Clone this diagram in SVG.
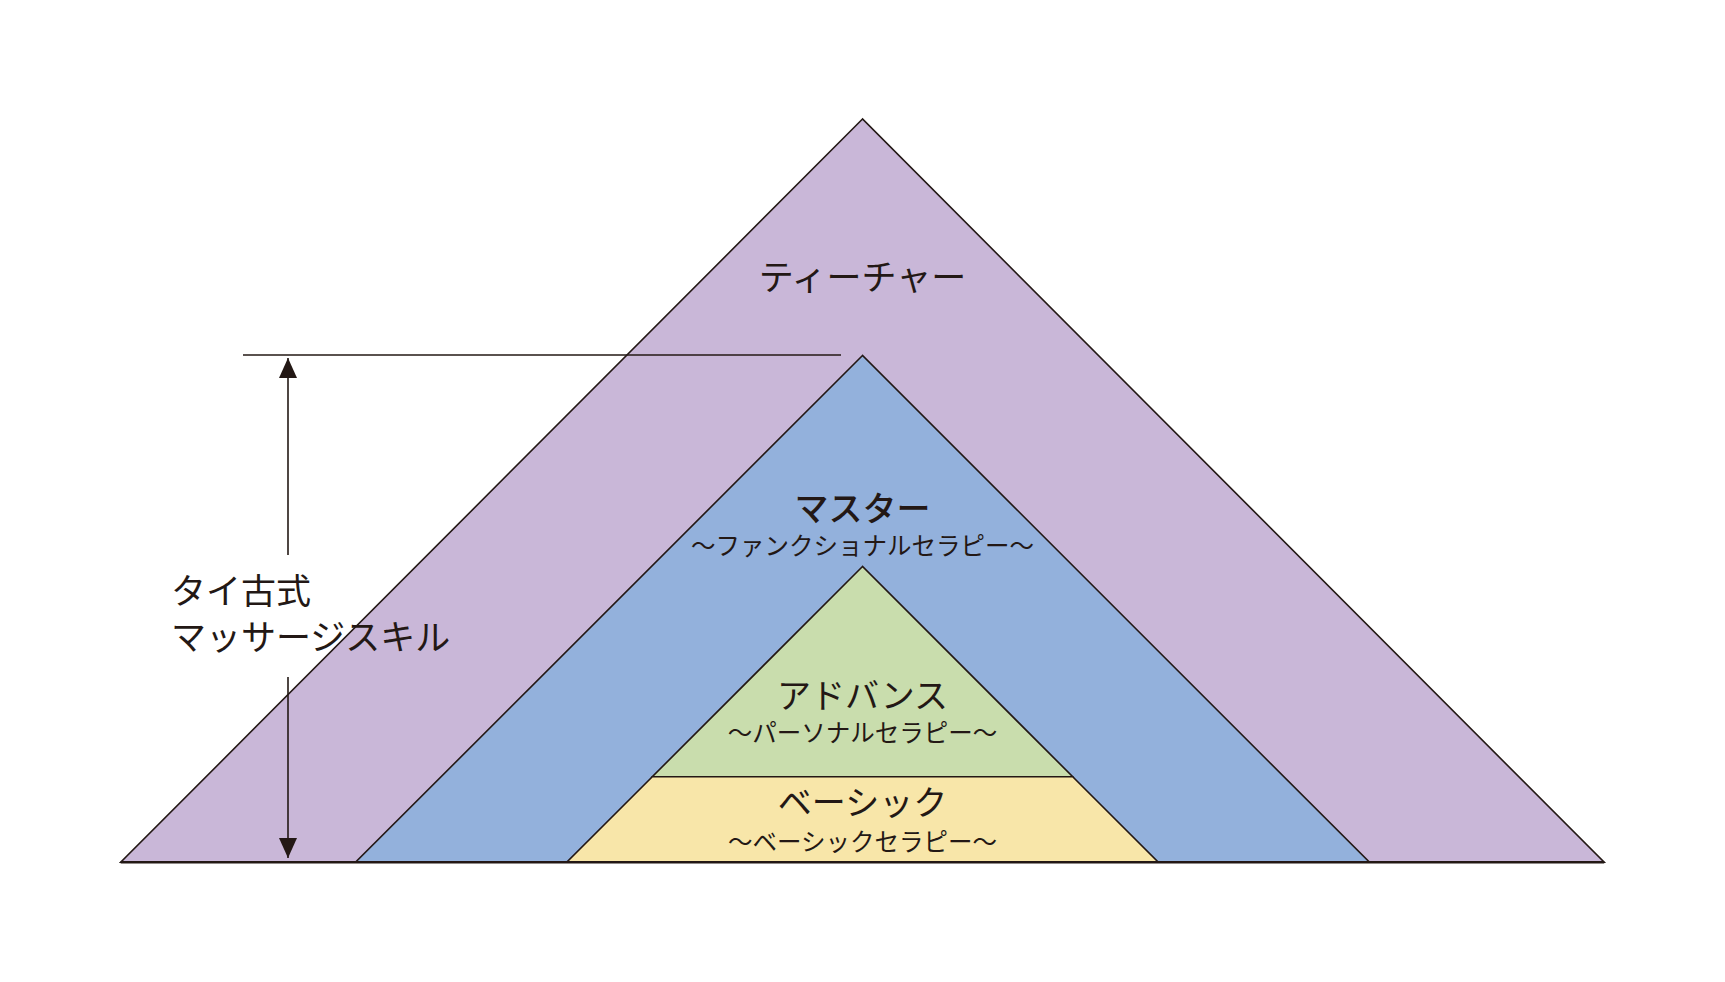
<svg xmlns="http://www.w3.org/2000/svg" width="1725" height="982" viewBox="0 0 1725 982">
<style>
.tri{stroke:#231815;stroke-width:1.6;stroke-linejoin:miter}
.t{font-family:"Noto Sans CJK JP","Noto Sans",sans-serif;fill:#231815;text-anchor:middle}
.h{font-size:34px}
.s{font-size:24.5px}
.ln{stroke:#231815;stroke-width:1.6;fill:none}
</style>
<defs>
<marker id="ah" viewBox="0 0 20 18" refX="20" refY="9" markerWidth="20" markerHeight="18" markerUnits="userSpaceOnUse" orient="auto">
<path d="M0,0 L20,9 L0,18 Z" fill="#231815"/>
</marker>
</defs>
<rect width="1725" height="982" fill="#ffffff"/>
<g id="teacher">
<polygon class="tri" points="862.5,119 120.7,862.3 1604.2,862.3" fill="#c9b7d8"/>
<text class="t h" x="862.5" y="290" style="font-size:35px">ティーチャー</text>
</g>
<g id="master">
<polygon class="tri" points="862.5,355.5 355.5,862.3 1369.5,862.3" fill="#93b1dc"/>
<text class="t h" x="862.5" y="521" style="font-weight:500">マスター</text>
<text class="t s" x="862.5" y="555">～ファンクショナルセラピー～</text>
</g>
<g id="advance">
<polygon class="tri" points="862.5,566.5 652.3,776.7 1072.7,776.7" fill="#c9ddad"/>
<text class="t h" x="862.5" y="708">アドバンス</text>
<text class="t s" x="862.5" y="742">～パーソナルセラピー～</text>
</g>
<g id="basic">
<polygon class="tri" points="652.3,776.7 1072.7,776.7 1158.3,862.3 566.7,862.3" fill="#f8e6a9"/>
<text class="t h" x="862.5" y="815">ベーシック</text>
<text class="t s" x="862.5" y="851">～ベーシックセラピー～</text>
</g>
<g id="connectors">
<line x1="120.7" y1="862.3" x2="1604.2" y2="862.3" stroke="#231815" stroke-width="2.4"/>
<line class="ln" x1="243" y1="355" x2="841" y2="355"/>
<line class="ln" x1="288" y1="555" x2="288" y2="358" marker-end="url(#ah)"/>
<line class="ln" x1="288" y1="677" x2="288" y2="858" marker-end="url(#ah)"/>
</g>
<g id="label">
<text class="t" x="171" y="604" style="text-anchor:start;font-size:35px">タイ古式</text>
<text class="t" x="171" y="650" style="text-anchor:start;font-size:35px">マッサージスキル</text>
</g>
</svg>
